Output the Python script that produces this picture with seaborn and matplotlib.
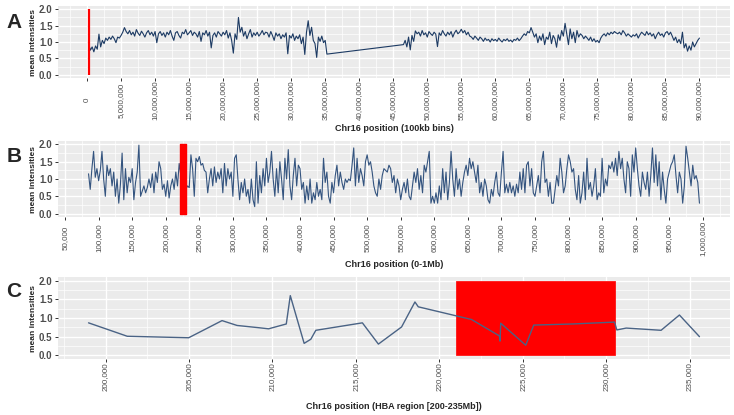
import numpy as np
import pandas as pd
import seaborn as sns
import matplotlib.pyplot as plt

sns.set_style("darkgrid", {"axes.facecolor": "#EBEBEB", "grid.color": "white"})
plt.rcParams["font.family"] = ["Liberation Sans", "DejaVu Sans"]

# HBA region (bp), drawn in red on every panel
hba_region = [221000, 230500]

# Panel A: whole chr16, 100kb bins (sampled every 250kb), gap at the centromere
a_pos_left = np.arange(0.25, 35.26, 0.25) * 1e6
a_val_left = [
    0.92, 0.75, 0.85, 0.70, 0.88, 0.78, 1.24, 0.85, 1.05, 0.95, 1.12, 1.05, 1.15, 1.08, 1.18, 1.10, 0.98, 1.15, 1.12, 1.20,
    1.30, 1.44, 1.32, 1.25, 1.35, 1.22, 1.30, 1.18, 1.38, 1.27, 1.20, 1.33, 1.25, 1.15, 1.28, 1.35, 1.22, 1.30, 1.18, 1.32,
    0.98, 1.25, 1.32, 1.20, 1.28, 1.15, 1.30, 1.22, 1.35, 1.18, 1.05, 1.28, 1.32, 1.20, 1.12, 1.30, 1.25, 1.38, 1.22, 1.28,
    1.35, 1.20, 1.30, 1.25, 1.15, 1.32, 1.02, 1.28, 1.22, 1.35, 1.18, 1.30, 0.82, 1.20, 1.28, 1.15, 1.32, 1.25, 1.18, 1.30,
    1.22, 1.35, 1.12, 1.28, 1.05, 0.66, 1.25, 1.08, 1.75, 1.30, 1.45, 1.18, 1.32, 1.10, 1.25, 1.38, 1.15, 1.28, 1.20, 1.30,
    1.18, 1.25, 1.35, 1.22, 1.30, 1.28, 1.15, 1.32, 1.20, 1.05, 1.28, 1.18, 1.25, 1.10, 1.22, 1.15, 1.28, 0.64, 1.20, 1.12,
    1.25, 1.05, 1.18, 1.10, 1.22, 0.95, 1.15, 0.62, 1.30, 1.65, 1.20, 1.45, 1.05, 0.95, 0.53, 1.15, 1.02, 1.18, 0.98, 1.05,
    0.63,
]
a_pos_right = np.arange(46.5, 90.01, 0.25) * 1e6
a_val_right = [
    0.92, 1.05, 0.85, 1.15, 0.76, 1.20, 1.02, 1.34, 1.25, 1.30, 1.18, 1.35, 1.22, 1.28, 1.15, 1.32, 1.25, 1.20, 1.30, 1.24,
    0.86, 1.28, 1.20, 1.35, 1.25, 1.18, 1.30, 1.22, 1.32, 1.15, 1.28, 1.36, 1.25, 1.30, 1.39, 1.28, 1.35, 1.22, 1.30, 1.18,
    1.15, 1.08, 1.18, 1.12, 1.05, 1.15, 1.10, 1.02, 1.12, 1.05, 1.08, 1.00, 1.10, 1.04, 1.08, 1.02, 1.12, 1.05, 1.00, 1.08,
    1.04, 1.10, 1.02, 1.06, 1.00, 1.08, 1.05, 1.12, 1.04, 1.10, 1.18, 1.25, 1.20, 1.32, 1.28, 1.44, 1.30, 1.15, 1.25, 0.98,
    1.18, 1.05, 1.25, 0.92, 1.15, 1.08, 1.30, 0.95, 1.20, 1.10, 0.84, 1.22, 1.05, 1.35, 1.18, 1.57, 1.25, 0.92, 1.40, 1.10,
    1.30, 0.98, 1.35, 1.15, 1.25, 1.20, 1.10, 1.18, 1.12, 1.05, 1.15, 1.02, 1.10, 1.00, 1.05, 0.98, 1.12, 1.20, 1.25, 1.18,
    1.28, 1.22, 1.30, 1.25, 1.32, 1.28, 1.25, 1.30, 1.22, 1.35, 1.28, 1.18, 1.25, 1.20, 1.15, 1.22, 1.18, 1.25, 1.12, 1.22,
    1.30, 1.25, 1.20, 1.32, 1.22, 1.28, 1.18, 1.25, 1.10, 1.22, 1.30, 1.20, 1.25, 1.15, 1.28, 1.32, 1.22, 1.30, 1.18, 1.05,
    1.15, 0.98, 1.08, 0.95, 1.30, 0.82, 0.95, 0.72, 0.88, 0.75, 1.00, 0.85, 0.95, 1.05, 1.12,
]

# Panel B: first 1Mb (sampled every 2.5kb)
b_pos = np.arange(85000, 995001, 2500)
b_val = [
    1.15, 0.70, 1.30, 1.80, 1.05, 1.30, 0.95, 1.25, 1.80, 1.00, 0.50, 1.40, 1.10, 1.30, 0.80, 1.20, 0.50, 1.00, 0.30, 0.85,
    1.75, 0.40, 1.30, 0.60, 1.05, 0.90, 1.30, 0.40, 0.90, 1.20, 1.98, 0.50, 0.65, 0.80, 0.60, 0.75, 1.00, 0.75, 1.15, 0.60,
    1.20, 0.90, 1.50, 1.30, 0.70, 0.85, 0.50, 0.95, 0.45, 0.80, 1.00, 0.70, 1.20, 0.80, 1.45, 1.10, 0.90, 1.20, 0.70, 0.80,
    0.75, 1.70, 1.30, 0.50, 1.60, 1.50, 1.65, 1.40, 1.45, 1.25, 1.20, 0.60, 1.00, 1.30, 0.80, 1.35, 0.90, 1.20, 1.00, 1.30,
    0.60, 1.45, 0.80, 1.30, 1.00, 1.20, 0.50, 1.60, 1.70, 1.00, 0.40, 0.90, 0.60, 1.00, 0.50, 0.70, 0.30, 1.00, 0.40, 0.20,
    1.50, 0.30, 1.10, 0.60, 1.30, 0.80, 1.60, 0.90, 1.20, 1.80, 1.00, 0.50, 1.30, 0.60, 1.50, 1.00, 0.40, 1.60, 1.00, 1.85,
    0.80, 0.40, 1.10, 1.60, 0.80, 1.40, 1.30, 0.70, 0.90, 0.30, 0.80, 0.40, 1.00, 0.30, 0.60, 0.40, 0.90, 0.50, 0.70, 0.40,
    1.60, 0.90, 1.20, 0.50, 0.30, 0.90, 0.60, 1.10, 1.40, 0.80, 1.20, 0.90, 0.70, 1.00, 0.90, 1.00, 0.95, 1.40, 1.90, 0.80,
    1.60, 0.90, 1.30, 1.10, 0.80, 1.50, 1.70, 1.40, 1.50, 1.20, 0.80, 0.60, 0.50, 1.00, 0.70, 1.10, 1.30, 1.25, 1.20, 1.40,
    1.30, 0.90, 1.10, 0.60, 1.00, 0.80, 0.40, 0.70, 0.90, 0.60, 1.00, 0.50, 0.40, 0.80, 1.20, 0.90, 1.30, 0.70, 1.10, 0.60,
    1.40, 1.20, 1.50, 1.80, 0.30, 0.50, 0.30, 0.60, 0.30, 0.80, 0.40, 1.30, 0.60, 1.20, 0.40, 0.90, 1.80, 1.00, 0.50, 1.30,
    0.70, 1.00, 0.50, 0.90, 1.20, 1.40, 1.10, 1.60, 1.30, 1.50, 1.20, 0.90, 1.40, 0.60, 0.90, 0.50, 1.00, 0.80, 0.40, 0.30,
    0.70, 0.50, 0.90, 1.20, 0.60, 0.50, 1.20, 1.80, 0.60, 0.85, 0.60, 0.90, 0.60, 0.80, 0.50, 0.85, 0.60, 1.20, 0.70, 1.30,
    0.60, 1.40, 1.50, 0.80, 1.30, 0.60, 0.50, 0.80, 1.10, 0.60, 1.50, 1.80, 0.90, 1.00, 0.50, 0.90, 0.30, 0.30, 0.70, 1.10,
    0.80, 1.60, 1.20, 0.60, 0.80, 1.30, 1.70, 1.50, 1.20, 1.30, 0.70, 0.40, 1.10, 0.30, 0.60, 1.20, 0.40, 1.60, 0.70, 0.90,
    0.50, 0.80, 1.30, 0.40, 0.60, 0.50, 1.60, 0.60, 1.00, 0.80, 1.40, 1.30, 1.50, 1.20, 1.60, 1.10, 1.80, 1.30, 1.60, 1.00,
    0.60, 1.50, 1.30, 0.50, 1.70, 1.20, 1.90, 1.30, 0.80, 0.50, 1.20, 0.90, 0.70, 1.20, 0.50, 1.10, 1.90, 0.90, 1.70, 0.80,
    1.50, 0.40, 1.20, 0.70, 0.30, 1.00, 1.20, 1.40, 1.50, 1.70, 1.10, 0.60, 1.20, 1.00, 0.30, 0.80, 1.95, 1.60, 1.20, 0.80,
    1.40, 1.00, 1.10, 0.90, 0.30,
]

# Panel C: HBA region probes
c_pos = [198980, 201300, 204980, 206980, 207880, 209170, 209770, 210830, 211070, 211900,
         212300, 212600, 215390, 216350, 217740, 218540, 218740, 221930, 223600, 223640,
         223680, 225180, 225660, 228010, 230500, 230640, 231200, 233290, 234390, 235590]
c_val = [0.87, 0.51, 0.47, 0.93, 0.80, 0.74, 0.71, 0.84, 1.60, 0.32,
         0.43, 0.67, 0.87, 0.30, 0.76, 1.43, 1.30, 0.96, 0.52, 0.38,
         0.86, 0.27, 0.81, 0.84, 0.89, 0.68, 0.73, 0.67, 1.08, 0.50]

df_a = pd.DataFrame({"pos": np.concatenate([a_pos_left, a_pos_right]),
                     "val": a_val_left + a_val_right})
df_b = pd.DataFrame({"pos": b_pos, "val": b_val})
df_c = pd.DataFrame({"pos": c_pos, "val": c_val})

W, H = 734, 415
fig = plt.figure(figsize=(W / 100, H / 100), dpi=100)

def box(left, top, right, bottom):
    return [left / W, 1 - bottom / H, (right - left) / W, (bottom - top) / H]

ax_a = fig.add_axes(box(58, 6, 730, 78))
ax_b = fig.add_axes(box(58, 141, 730, 217))
ax_c = fig.add_axes(box(58, 277, 730, 359))

# A
sns.lineplot(data=df_a, x="pos", y="val", ax=ax_a, color="#1c3a63", linewidth=0.8, estimator=None)
ax_a.fill_between(hba_region, 0, 2, facecolor="red", edgecolor="red", linewidth=1.6, zorder=3)

# B
sns.lineplot(data=df_b, x="pos", y="val", ax=ax_b, color="#34547f", linewidth=0.8, estimator=None)
ax_b.fill_between(hba_region, 0, 2, facecolor="red", edgecolor="red", linewidth=1.0, zorder=3)

# C
ax_c.fill_between(hba_region, 0, 2, facecolor="red", edgecolor="red", linewidth=0.5, zorder=1)
sns.lineplot(data=df_c, x="pos", y="val", ax=ax_c, color="#4a6385", linewidth=1.0, estimator=None, zorder=3)

panels = [
    (ax_a, np.arange(0, 90000001, 5000000), 2500000, "Chr16 position (100kb bins)", -0.64, "A", 22, 13.3),
    (ax_b, np.arange(50000, 1000001, 50000), 25000, "Chr16 position (0-1Mb)", -0.56, "B", 156, 12.6),
    (ax_c, np.arange(200000, 235001, 5000), 2500, "Chr16 position (HBA region [200-235Mb])", -0.52, "C", 291, 10.5),
]

for ax, xmaj, half, xlabel, label_y, letter, letter_y, tpad in panels:
    xmin, xmax = ax.get_xlim()
    ax.set_xticks(xmaj)
    ax.set_xticklabels([f"{int(v):,}" for v in xmaj], rotation=90, fontsize=5.8,
                       color="#4D4D4D", ha="center", va="center")
    ax.set_xticks(np.arange(xmaj[0] - half, xmaj[-1] + 2 * half, 2 * half), minor=True)
    ax.set_xlim(xmin, xmax)
    ax.set_ylim(-0.1, 2.1)
    ax.set_yticks([0, 0.5, 1.0, 1.5, 2.0])
    ax.set_yticklabels(["0.0", "0.5", "1.0", "1.5", "2.0"], fontsize=7, fontweight="bold", color="#4D4D4D")
    ax.set_yticks([0.25, 0.75, 1.25, 1.75], minor=True)
    ax.grid(which="major", color="white", linewidth=1.0)
    ax.grid(which="minor", color="white", linewidth=0.5)
    ax.tick_params(which="major", bottom=True, left=True, length=2.5, width=0.7, color="#333333", pad=1.5)
    ax.tick_params(axis="x", which="major", pad=tpad)
    ax.tick_params(which="minor", length=0)
    ax.set_xlabel(xlabel, fontsize=6.5, fontweight="bold")
    ax.xaxis.set_label_coords(0.5, label_y)
    ax.set_ylabel("mean intensities", fontsize=6, fontweight="bold")
    ax.yaxis.set_label_coords(-0.031, 0.5)
    for s in ax.spines.values():
        s.set_visible(False)
    fig.text(14 / W, 1 - letter_y / H, letter, fontsize=15, fontweight="bold", ha="center", va="center")

fig.savefig("out.png", dpi=100)
